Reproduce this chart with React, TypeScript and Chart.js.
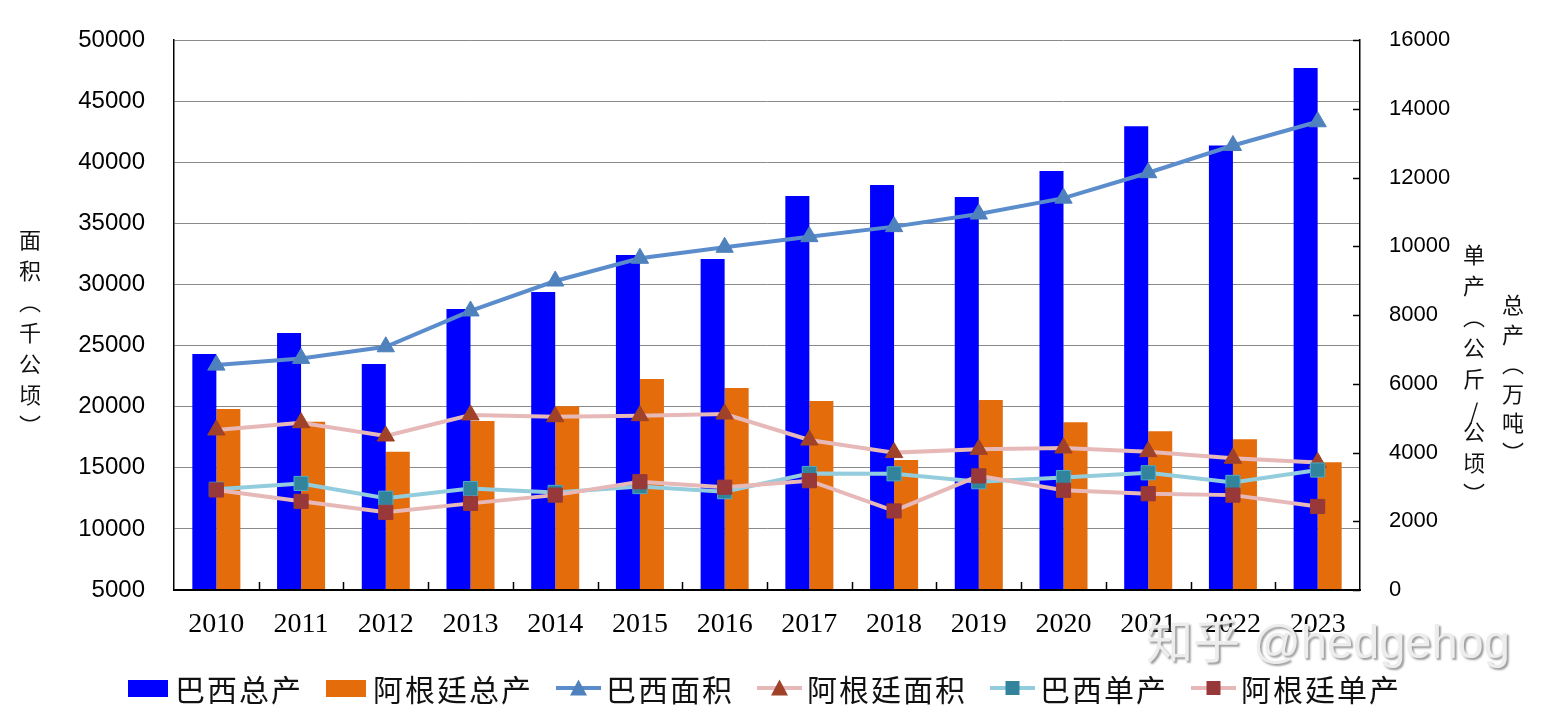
import React, { useEffect, useRef } from 'react';
import Chart from 'chart.js/auto';

// 年份
const years = ['2010', '2011', '2012', '2013', '2014', '2015', '2016', '2017', '2018', '2019', '2020', '2021', '2022', '2023'];

// 总产（万吨）- right axis
const brazilTotal = [6865, 7476, 6575, 8175, 8669, 9745, 9629, 11462, 11782, 11433, 12192, 13492, 12931, 15185];
const argentinaTotal = [5265, 4896, 4024, 4916, 5343, 6138, 5876, 5498, 3782, 5527, 4882, 4617, 4384, 3718];

// 面积（千公顷）- left axis
const brazilArea = [23400, 23950, 24900, 27830, 30280, 32140, 33040, 33910, 34730, 35760, 37060, 39140, 41370, 43310];
const argentinaArea = [18090, 18690, 17600, 19320, 19180, 19260, 19400, 17270, 16240, 16510, 16620, 16320, 15780, 15430];

// 单产（公斤/公顷）- right axis
const brazilYield = [2930, 3100, 2670, 2950, 2840, 3010, 2860, 3390, 3380, 3150, 3270, 3410, 3130, 3490];
const argentinaYield = [2910, 2580, 2260, 2520, 2760, 3150, 2990, 3180, 2300, 3320, 2900, 2800, 2760, 2430];

const C = {
    brBar: '#0000FF',
    arBar: '#E46C0A',
    brAreaLine: '#5B8CCB',
    brAreaPoint: '#4F81BD',
    arAreaLine: '#E6B9B8',
    arAreaPoint: '#A0422A',
    brYieldLine: '#93CDDD',
    brYieldPoint: '#31849B',
    arYieldLine: '#E6B9B8',
    arYieldPoint: '#983838',
};

const numFont = "'Liberation Sans', Arial, sans-serif";
const cjkFont = "'Noto Sans CJK SC', sans-serif";

// small tick marks drawn inside the plot (bottom axis between categories, right axis at ticks)
const innerTicks = {
    id: 'innerTicks',
    afterDraw(chart: any) {
        const { ctx, chartArea, scales } = chart;
        const x = scales.x;
        const y2 = scales.y2;
        ctx.save();
        ctx.strokeStyle = '#000';
        ctx.lineWidth = 1.5;
        ctx.beginPath();
        for (let i = 1; i < x.ticks.length; i++) {
            const px = Math.round(x.getPixelForValue(i - 0.5)) + 0.5;
            ctx.moveTo(px, chartArea.bottom);
            ctx.lineTo(px, chartArea.bottom - 8);
        }
        y2.ticks.forEach((t: any) => {
            const py = Math.round(y2.getPixelForValue(t.value)) + 0.5;
            ctx.moveTo(chartArea.right, py);
            ctx.lineTo(chartArea.right - 7, py);
        });
        ctx.stroke();
        ctx.restore();
    },
};

const LineSymbol = ({ line, fill, shape }: { line: string; fill: string; shape: 'triangle' | 'rect' }) => (
    <svg width={45} height={20} style={{ display: 'block' }}>
        <line x1={0} y1={10} x2={45} y2={10} stroke={line} strokeWidth={4} />
        {shape === 'triangle'
            ? <polygon points="22.5,1.5 31,17.5 14,17.5" fill={fill} />
            : <rect x={15.5} y={3} width={14} height={14} fill={fill} />}
    </svg>
);

const BoxSymbol = ({ color }: { color: string }) => (
    <div style={{ width: 40, height: 17, background: color, marginRight: 2 }} />
);

export default function App() {
    const canvasRef = useRef<HTMLCanvasElement>(null);

    useEffect(() => {
        if (!canvasRef.current) return;

        const lineBase = { type: 'line' as const, borderWidth: 4, tension: 0, pointRadius: 10, pointBorderWidth: 1, fill: false };

        const chart = new Chart(canvasRef.current, {
            type: 'bar',
            data: {
                labels: years,
                datasets: [
                    { ...lineBase, label: '阿根廷单产', data: argentinaYield, yAxisID: 'y2', order: 1, borderColor: C.arYieldLine, pointStyle: 'rect', pointBackgroundColor: C.arYieldPoint, pointBorderColor: C.arYieldPoint },
                    { ...lineBase, label: '巴西单产', data: brazilYield, yAxisID: 'y2', order: 2, borderColor: C.brYieldLine, pointStyle: 'rect', pointBackgroundColor: C.brYieldPoint, pointBorderColor: '#4BACC6' },
                    { ...lineBase, label: '阿根廷面积', data: argentinaArea, yAxisID: 'y', order: 3, borderColor: C.arAreaLine, pointStyle: 'triangle', pointBackgroundColor: C.arAreaPoint, pointBorderColor: C.arAreaPoint },
                    { ...lineBase, label: '巴西面积', data: brazilArea, yAxisID: 'y', order: 4, borderColor: C.brAreaLine, pointStyle: 'triangle', pointBackgroundColor: C.brAreaPoint, pointBorderColor: C.brAreaPoint },
                    { label: '巴西总产', data: brazilTotal, yAxisID: 'y2', order: 5, backgroundColor: C.brBar, borderWidth: 0, categoryPercentage: 0.567, barPercentage: 1.0 },
                    { label: '阿根廷总产', data: argentinaTotal, yAxisID: 'y2', order: 6, backgroundColor: C.arBar, borderWidth: 0, categoryPercentage: 0.567, barPercentage: 1.0 },
                ] as any,
            },
            options: {
                responsive: true,
                maintainAspectRatio: false,
                animation: false,
                layout: { padding: { top: 40, left: 0, right: 0, bottom: 0 } },
                plugins: {
                    legend: { display: false },
                    tooltip: { enabled: false },
                },
                scales: {
                    x: {
                        grid: { display: false },
                        border: { color: '#000', width: 2, z: 1 },
                        ticks: {
                            color: '#000',
                            padding: 10,
                            maxRotation: 0,
                            autoSkip: false,
                            font: { family: "'Liberation Serif', 'Times New Roman', serif", size: 28 },
                        },
                        afterFit: (s: any) => { s.height = 130; },
                    },
                    y: {
                        position: 'left',
                        min: 5000,
                        max: 50000,
                        ticks: {
                            stepSize: 5000,
                            padding: 29,
                            color: '#000',
                            font: { family: numFont, size: 24 },
                            callback: (v: any) => String(v),
                        },
                        grid: { color: '#8a8a8a', lineWidth: 1, drawTicks: false },
                        border: { color: '#000', width: 1.5 },
                        afterFit: (s: any) => { s.width = 174; s.paddingTop = 15; s.paddingBottom = 15; },
                    },
                    y2: {
                        position: 'right',
                        min: 0,
                        max: 16000,
                        ticks: {
                            stepSize: 2000,
                            padding: 21,
                            color: '#000',
                            font: { family: numFont, size: 22 },
                            callback: (v: any) => String(v),
                        },
                        grid: { display: false },
                        border: { color: '#000', width: 1.5 },
                        afterFit: (s: any) => { s.width = 187; s.paddingTop = 15; s.paddingBottom = 15; },
                    },
                },
            } as any,
            plugins: [innerTicks],
        });

        return () => chart.destroy();
    }, []);

    const vTitle: React.CSSProperties = {
        position: 'absolute',
        writingMode: 'vertical-rl',
        fontFamily: cjkFont,
        fontSize: 22,
        lineHeight: 1,
        letterSpacing: 9,
        color: '#111',
        whiteSpace: 'nowrap',
    };

    return (
        <div style={{ position: 'fixed', left: 0, top: 0, width: 1547, height: 720, background: '#fff', overflow: 'hidden' }}>
            <div style={{ position: 'absolute', left: 0, top: 0, width: 1547, height: 720 }}>
                <canvas ref={canvasRef}></canvas>
            </div>

            <div style={{ ...vTitle, left: 19, top: 229 }}>面积（千公顷）</div>
            <div style={{ ...vTitle, left: 1463, top: 244 }}>
                单产（公斤<span style={{ textCombineUpright: 'all' } as any}>/</span>公顷）
            </div>
            <div style={{ ...vTitle, left: 1502, top: 294, letterSpacing: 7.5 }}>总产（万吨）</div>

            <div
                style={{
                    position: 'absolute', left: 1146, top: 618, fontSize: 47, lineHeight: 1,
                    fontFamily: "'Liberation Sans', 'Noto Sans CJK SC', sans-serif",
                    color: '#ededed', textShadow: '2px 2px 2px rgba(90,90,90,0.6)', whiteSpace: 'nowrap', pointerEvents: 'none',
                }}
            >
                知乎 @hedgehog
            </div>

            <div
                style={{
                    position: 'absolute', left: 128, top: 671, height: 34, display: 'flex', alignItems: 'center', gap: 23,
                    fontFamily: cjkFont, fontSize: 30, lineHeight: '34px', letterSpacing: 2, color: '#111', whiteSpace: 'nowrap',
                }}
            >
                <div style={{ display: 'flex', alignItems: 'center', gap: 5 }}><BoxSymbol color={C.brBar} /><span>巴西总产</span></div>
                <div style={{ display: 'flex', alignItems: 'center', gap: 5 }}><BoxSymbol color={C.arBar} /><span>阿根廷总产</span></div>
                <div style={{ display: 'flex', alignItems: 'center', gap: 5 }}><LineSymbol line={C.brAreaLine} fill={C.brAreaPoint} shape="triangle" /><span>巴西面积</span></div>
                <div style={{ display: 'flex', alignItems: 'center', gap: 5 }}><LineSymbol line={C.arAreaLine} fill={C.arAreaPoint} shape="triangle" /><span>阿根廷面积</span></div>
                <div style={{ display: 'flex', alignItems: 'center', gap: 5 }}><LineSymbol line={C.brYieldLine} fill={C.brYieldPoint} shape="rect" /><span>巴西单产</span></div>
                <div style={{ display: 'flex', alignItems: 'center', gap: 5 }}><LineSymbol line={C.arYieldLine} fill={C.arYieldPoint} shape="rect" /><span>阿根廷单产</span></div>
            </div>
        </div>
    );
}
